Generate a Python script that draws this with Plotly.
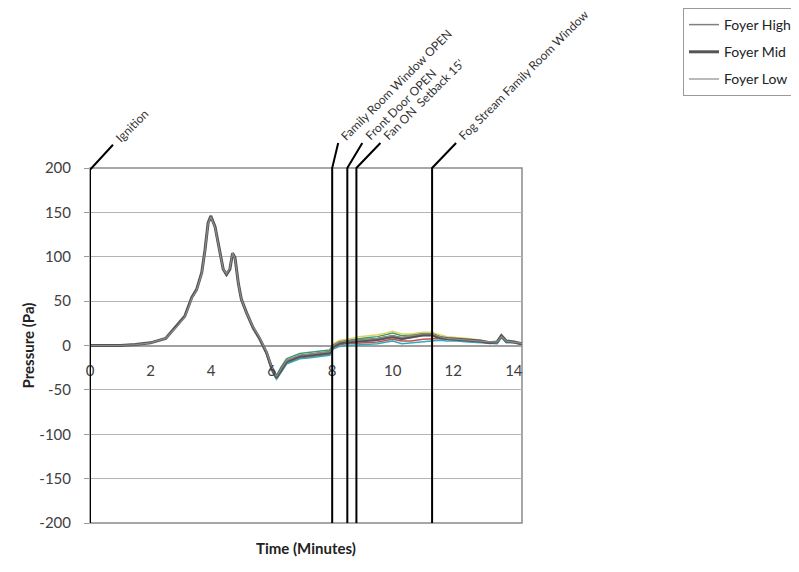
import plotly.graph_objects as go

# Zeit (Minuten) und Druckverlauf (Pa)
time_min = [0, 0.5, 1, 1.5, 2, 2.5, 2.86, 3.13, 3.36, 3.52, 3.69, 3.8, 3.9, 3.99, 4.13,
            4.29, 4.4, 4.51, 4.62, 4.71, 4.79, 4.9, 5.0, 5.17, 5.39, 5.6, 5.83, 6.0, 6.16,
            6.3, 6.49, 6.7, 6.93, 7.2, 7.48, 7.7, 7.92, 8.03, 8.25, 8.5, 8.9, 9.2, 9.5,
            9.8, 10.0, 10.3, 10.6, 11.0, 11.3, 11.55, 11.8, 12.1, 12.5, 12.9, 13.2, 13.45,
            13.59, 13.75, 14.0, 14.19, 14.27]

foyer_mid = [0, 0, 0, 1, 3, 8, 22, 33, 54, 63, 82, 108, 138, 146, 134,
             105, 86, 80, 86, 104, 99, 70, 52, 37, 20, 8, -8, -25, -36,
             -28, -18, -15, -12, -11, -10, -9, -8, -1, 3, 4, 5, 6, 7,
             9, 10, 8, 10, 12, 12, 9, 8, 7, 6, 5, 3, 4,
             11, 5, 4, 3, 2]
foyer_high = [0, 0, 0, 1, 3, 8, 22, 33, 55, 63, 83, 109, 139, 146, 133,
              104, 85, 79, 85, 103, 98, 69, 51, 36, 19, 7, -9, -26, -37,
              -29, -19, -16, -13, -12, -11, -10, -9, -2, 2, 3, 4, 5, 6,
              8, 9, 7, 9, 11, 11, 8, 7, 6, 5, 4, 3, 3,
              10, 4, 4, 2, 2]
foyer_low = [0, 0, 0, 1, 3, 8, 21, 32, 53, 62, 81, 107, 137, 145, 133,
             105, 86, 81, 87, 104, 98, 70, 52, 37, 21, 9, -7, -24, -35,
             -27, -17, -14, -11, -10, -9, -8, -7, 0, 4, 5, 6, 7, 8,
             10, 11, 9, 11, 13, 13, 10, 8, 7, 6, 5, 4, 4,
             10, 5, 4, 3, 2]
sensor_green = [0, 0, 0, 1, 3, 8, 22, 33, 54, 63, 82, 108, 138, 146, 134,
                105, 86, 80, 86, 104, 99, 70, 52, 37, 20, 8, -7, -23, -34,
                -25, -15, -12, -9, -8, -7, -6, -5, 1, 5, 6, 8, 9, 10,
                12, 14, 11, 12, 14, 14, 10, 8, 7, 6, 5, 3, 4,
                10, 5, 4, 3, 2]
sensor_red = [0, 0, 0, 1, 3, 8, 22, 33, 54, 63, 82, 108, 138, 146, 134,
              105, 86, 80, 86, 104, 99, 70, 52, 37, 20, 8, -9, -27, -37,
              -30, -20, -17, -14, -13, -12, -11, -10, -3, 1, 2, 3, 4, 4,
              6, 7, 5, 5, 7, 8, 8, 7, 6, 5, 4, 3, 3,
              10, 4, 4, 2, 2]
sensor_teal = [0, 0, 0, 1, 3, 8, 22, 33, 54, 63, 82, 108, 138, 146, 134,
               105, 86, 80, 86, 104, 99, 70, 52, 37, 20, 8, -9, -28, -38,
               -31, -21, -18, -15, -14, -13, -12, -11, -4, -1, 0, 1, 2, 2,
               4, 5, 2, 3, 4, 5, 6, 5, 5, 4, 3, 2, 2,
               9, 3, 3, 2, 1]
sensor_yellow = [0, 0, 0, 1, 3, 8, 22, 33, 54, 63, 82, 108, 138, 146, 134,
                 105, 86, 80, 86, 104, 99, 70, 52, 37, 20, 8, -8, -24, -35,
                 -27, -17, -14, -11, -10, -9, -8, -7, 2, 6, 7, 10, 11, 12,
                 14, 16, 13, 13, 15, 15, 12, 10, 9, 8, 6, 4, 4,
                 11, 6, 5, 3, 3]

# Achsenbeschriftung (mit normalem Bindestrich wie im Original)
y_ticks = [-200, -150, -100, -50, 0, 50, 100, 150, 200]
y_tick_labels = ['-200', '-150', '-100', '-50', '0', '50', '100', '150', '200']

# Ereignisse
event_times = [0, 8.0, 8.5, 8.8, 11.3]
event_labels = ['Ignition', 'Family Room Window OPEN', 'Front Door OPEN',
                "Fan ON  Setback 15'", 'Fog Stream Family Room Window']
leader_dx = [23, 6, 15, 24, 24]  # Pixel, Versatz der Schraeglinie

x_range = [0, 14.27]
plot_w = 432  # Breite der Zeichenflaeche in Pixel
plot_h = 355
px_per_min = plot_w / (x_range[1] - x_range[0])

# Seite hat 8px Rand, daher etwas kleiner
fig_w, fig_h = 791, 564

fig = go.Figure()

hidden = [('Sensor Green', sensor_green, '#3f9a72'),
          ('Sensor Red', sensor_red, '#c0504d'),
          ('Sensor Teal', sensor_teal, '#34a9bd'),
          ('Sensor Yellow', sensor_yellow, '#e3d35a')]
for name, vals, color in hidden:
    fig.add_trace(go.Scatter(x=time_min, y=vals, mode='lines', name=name,
                             line=dict(color=color, width=1.5), showlegend=False))

for name, vals, color, w in [('Foyer High', foyer_high, '#7f7f7f', 1.5),
                             ('Foyer Mid', foyer_mid, '#555555', 3),
                             ('Foyer Low', foyer_low, '#8c8c8c', 1.2)]:
    fig.add_trace(go.Scatter(x=time_min, y=vals, mode='lines', name=name,
                             legendgroup=name, line=dict(color=color, width=w)))

# Ereignislinien mit Schraeglinie und Beschriftung
for t, label, dx in zip(event_times, event_labels, leader_dx):
    x_end = t + dx / px_per_min
    y_top = 1.0 if t > 0 else 0.995
    y_end = y_top + 25 / plot_h
    fig.add_shape(type='path', xref='x', yref='paper',
                  path=f'M {t},0 L {t},{y_top} L {x_end},{y_end}',
                  line=dict(color='black', width=2))
    fig.add_annotation(x=x_end, y=y_end, xref='x', yref='paper', text=label,
                       showarrow=False, textangle=-45, xanchor='left', yanchor='bottom',
                       xshift=-3, yshift=-3,
                       font=dict(size=12, color='#333333', family='Lato'))

# Rahmen der Zeichenflaeche
fig.add_shape(type='rect', xref='x domain', yref='y domain', x0=0, x1=1, y0=0, y1=1,
              line=dict(color='#8a8a8a', width=1.5), layer='below')

fig.add_annotation(text='<b>Time (Minutes)</b>', x=0.5, y=-25 / plot_h, xref='paper',
                   yref='paper', showarrow=False, yanchor='middle',
                   font=dict(size=15, color='#222222', family='Lato'))
fig.add_annotation(text='<b>Pressure (Pa)</b>', x=-63 / plot_w, y=0.5, xref='paper',
                   yref='paper', showarrow=False, textangle=-90, xanchor='center',
                   font=dict(size=15, color='#222222', family='Lato'))

fig.update_layout(
    width=fig_w, height=fig_h,
    margin=dict(l=82, r=fig_w - 82 - plot_w, t=160, b=fig_h - 160 - plot_h, autoexpand=False),
    plot_bgcolor='white', paper_bgcolor='white',
    font=dict(family='Lato', size=15, color='#404040'),
    showlegend=True,
    legend=dict(xref='container', yref='container', x=1 - 2 / fig_w, y=1,
                xanchor='right', yanchor='top',
                bordercolor='#9a9a9a', borderwidth=1, font=dict(size=14, color='#222222'),
                tracegroupgap=6, itemwidth=30),
    xaxis=dict(range=x_range, dtick=2, tick0=0, showgrid=False, zeroline=False,
               showline=False, anchor='free', position=0.5, ticks='', automargin=False,
               ticklabelstandoff=14, tickfont=dict(size=15)),
    yaxis=dict(range=[-200, 200], tickvals=y_ticks, ticktext=y_tick_labels,
               showgrid=True, gridcolor='#b4b4b4',
               gridwidth=1, zeroline=True, zerolinecolor='#a0a0a0', zerolinewidth=1.5,
               showline=False, ticks='outside', ticklen=5, tickcolor='#9a9a9a',
               automargin=False, ticklabelstandoff=10, tickfont=dict(size=15)),
)

fig.write_html('out.html')
